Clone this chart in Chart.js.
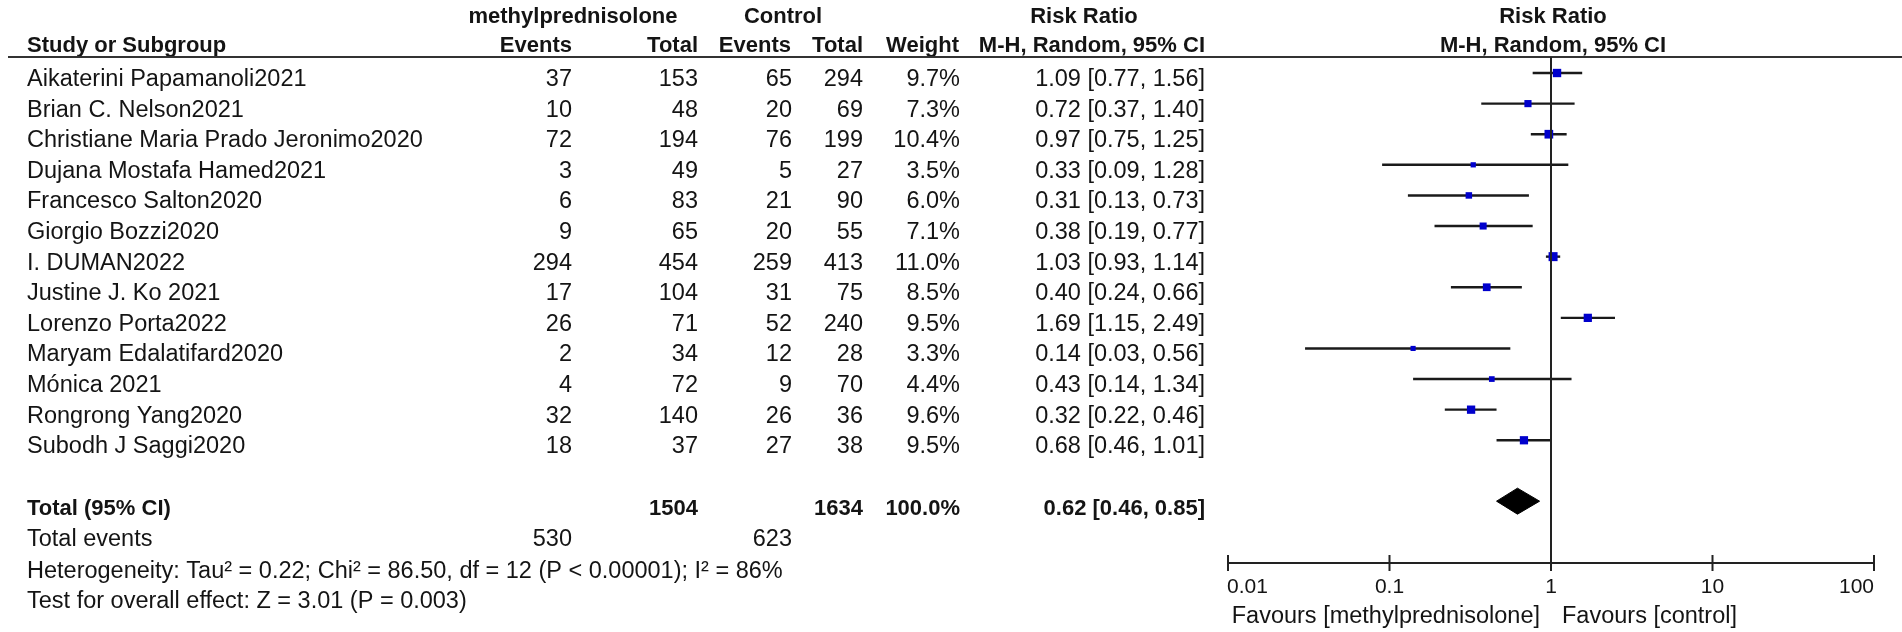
<!DOCTYPE html>
<html>
<head>
<meta charset="utf-8">
<script src="https://cdn.jsdelivr.net/npm/chart.js@4.4.1/dist/chart.umd.min.js"></script>
<style>
  html, body { margin: 0; padding: 0; background: #fff; }
  #wrap { width: 1902px; height: 632px; position: relative; }
</style>
</head>
<body>
<div id="wrap"><canvas id="forest"></canvas></div>
<script>
// study data
const studies = [
  'Aikaterini Papamanoli2021', 'Brian C. Nelson2021', 'Christiane Maria Prado Jeronimo2020',
  'Dujana Mostafa Hamed2021', 'Francesco Salton2020', 'Giorgio Bozzi2020', 'I. DUMAN2022',
  'Justine J. Ko 2021', 'Lorenzo Porta2022', 'Maryam Edalatifard2020', 'Mónica 2021',
  'Rongrong Yang2020', 'Subodh J Saggi2020'
];
const expEvents  = [37, 10, 72, 3, 6, 9, 294, 17, 26, 2, 4, 32, 18];
const expTotal   = [153, 48, 194, 49, 83, 65, 454, 104, 71, 34, 72, 140, 37];
const ctrlEvents = [65, 20, 76, 5, 21, 20, 259, 31, 52, 12, 9, 26, 27];
const ctrlTotal  = [294, 69, 199, 27, 90, 55, 413, 75, 240, 28, 70, 36, 38];
const weights    = [9.7, 7.3, 10.4, 3.5, 6.0, 7.1, 11.0, 8.5, 9.5, 3.3, 4.4, 9.6, 9.5];
const riskRatio  = [1.09, 0.72, 0.97, 0.33, 0.31, 0.38, 1.03, 0.40, 1.69, 0.14, 0.43, 0.32, 0.68];
const ciLower    = [0.77, 0.37, 0.75, 0.09, 0.13, 0.19, 0.93, 0.24, 1.15, 0.03, 0.14, 0.22, 0.46];
const ciUpper    = [1.56, 1.40, 1.25, 1.28, 0.73, 0.77, 1.14, 0.66, 2.49, 0.56, 1.34, 0.46, 1.01];

// pooled result
const totalExp = 1504, totalCtrl = 1634, totalWeight = '100.0%';
const eventsExp = 530, eventsCtrl = 623;
const pooled = [0.46, 0.62, 0.85]; // lower, estimate, upper
const heterogeneity = 'Heterogeneity: Tau² = 0.22; Chi² = 86.50, df = 12 (P < 0.00001); I² = 86%';
const overallTest = 'Test for overall effect: Z = 3.01 (P = 0.003)';

const tickValues = [0.01, 0.1, 1, 10, 100];
const tickLabels = ['0.01', '0.1', '1', '10', '100'];

const TOTAL_ROW = 14.99;
const FONT = '"Liberation Sans", Arial, sans-serif';
const INK = '#141414';
const BODY = 23.5;

// one line dataset per confidence interval
const ciSets = studies.map((s, i) => ({
  type: 'scatter',
  data: [{ x: ciLower[i], y: i + 1 }, { x: ciUpper[i], y: i + 1 }],
  showLine: true,
  borderColor: '#1a1a1a',
  borderWidth: 2.4,
  pointRadius: 0,
  order: 2
}));

const squareSet = {
  type: 'scatter',
  data: riskRatio.map((v, i) => ({ x: v, y: i + 1 })),
  pointStyle: 'rect',
  pointRadius: weights.map(w => (3.5 + 0.5 * w) / Math.SQRT2),
  backgroundColor: '#0000cc',
  borderWidth: 0,
  pointBorderWidth: 0,
  order: 0
};

const dh = 0.425;
const diamondSet = {
  type: 'scatter',
  data: [
    { x: pooled[0], y: TOTAL_ROW }, { x: pooled[1], y: TOTAL_ROW - dh },
    { x: pooled[2], y: TOTAL_ROW }, { x: pooled[1], y: TOTAL_ROW + dh },
    { x: pooled[0], y: TOTAL_ROW }
  ],
  showLine: true,
  fill: 'shape',
  backgroundColor: '#000',
  borderColor: '#000',
  borderWidth: 1,
  pointRadius: 0,
  tension: 0,
  order: 1
};

function txt(ctx, s, x, y, align, bold, size) {
  ctx.font = (bold ? 'bold ' : '') + size + 'px ' + FONT;
  ctx.textAlign = align;
  ctx.fillText(s, x, y);
}

const tablePlugin = {
  id: 'tablePlugin',
  afterDraw(chart) {
    const ctx = chart.ctx;
    const xs = chart.scales.x, ys = chart.scales.y;
    ctx.save();
    ctx.fillStyle = INK;
    ctx.textBaseline = 'alphabetic';

    // headers
    txt(ctx, 'methylprednisolone', 573, 23, 'center', true, 22);
    txt(ctx, 'Control', 783, 23, 'center', true, 22);
    txt(ctx, 'Risk Ratio', 1084, 23, 'center', true, 22);
    txt(ctx, 'Risk Ratio', 1553, 23, 'center', true, 22);
    txt(ctx, 'Study or Subgroup', 27, 52, 'left', true, 22);
    txt(ctx, 'Events', 572, 52, 'right', true, 22);
    txt(ctx, 'Total', 698, 52, 'right', true, 22);
    txt(ctx, 'Events', 791, 52, 'right', true, 22);
    txt(ctx, 'Total', 863, 52, 'right', true, 22);
    txt(ctx, 'Weight', 959, 52, 'right', true, 22);
    txt(ctx, 'M-H, Random, 95% CI', 1205, 52, 'right', true, 22);
    txt(ctx, 'M-H, Random, 95% CI', 1553, 52, 'center', true, 22);

    ctx.strokeStyle = '#333';
    ctx.lineWidth = 2;
    ctx.beginPath();
    ctx.moveTo(8, 57);
    ctx.lineTo(1902, 57);
    ctx.stroke();

    // study rows
    studies.forEach((s, i) => {
      const y = ys.getPixelForValue(i + 1) + 13;
      txt(ctx, s, 27, y, 'left', false, BODY);
      txt(ctx, String(expEvents[i]), 572, y, 'right', false, BODY);
      txt(ctx, String(expTotal[i]), 698, y, 'right', false, BODY);
      txt(ctx, String(ctrlEvents[i]), 792, y, 'right', false, BODY);
      txt(ctx, String(ctrlTotal[i]), 863, y, 'right', false, BODY);
      txt(ctx, weights[i].toFixed(1) + '%', 960, y, 'right', false, BODY);
      txt(ctx, riskRatio[i].toFixed(2) + ' [' + ciLower[i].toFixed(2) + ', ' + ciUpper[i].toFixed(2) + ']',
          1205, y, 'right', false, BODY);
    });

    // total rows
    const ty = ys.getPixelForValue(TOTAL_ROW) + 14;
    txt(ctx, 'Total (95% CI)', 27, ty, 'left', true, 22);
    txt(ctx, String(totalExp), 698, ty, 'right', true, 22);
    txt(ctx, String(totalCtrl), 863, ty, 'right', true, 22);
    txt(ctx, totalWeight, 960, ty, 'right', true, 22);
    txt(ctx, pooled[1].toFixed(2) + ' [' + pooled[0].toFixed(2) + ', ' + pooled[2].toFixed(2) + ']',
        1205, ty, 'right', true, 22);
    txt(ctx, 'Total events', 27, 546, 'left', false, BODY);
    txt(ctx, String(eventsExp), 572, 546, 'right', false, BODY);
    txt(ctx, String(eventsCtrl), 792, 546, 'right', false, BODY);
    txt(ctx, heterogeneity, 27, 578, 'left', false, BODY);
    txt(ctx, overallTest, 27, 608, 'left', false, BODY);

    // line of no effect
    const x1 = xs.getPixelForValue(1);
    ctx.strokeStyle = '#222';
    ctx.beginPath();
    ctx.moveTo(x1, 57);
    ctx.lineTo(x1, chart.chartArea.bottom);
    ctx.stroke();

    // x axis
    const ay = chart.chartArea.bottom;
    ctx.beginPath();
    ctx.moveTo(xs.getPixelForValue(tickValues[0]), ay);
    ctx.lineTo(xs.getPixelForValue(tickValues[tickValues.length - 1]), ay);
    tickValues.forEach(v => {
      const px = xs.getPixelForValue(v);
      ctx.moveTo(px, ay - 8);
      ctx.lineTo(px, ay + 8);
    });
    ctx.stroke();
    tickValues.forEach((v, i) => {
      const px = xs.getPixelForValue(v);
      const al = i === 0 ? 'left' : (i === tickValues.length - 1 ? 'right' : 'center');
      txt(ctx, tickLabels[i], px + (i === 0 ? -1 : 0), ay + 30, al, false, 21);
    });
    txt(ctx, 'Favours [methylprednisolone]', x1 - 11, 623, 'right', false, BODY);
    txt(ctx, 'Favours [control]', x1 + 11, 623, 'left', false, BODY);
    ctx.restore();
  }
};

new Chart(document.getElementById('forest'), {
  type: 'scatter',
  data: { datasets: [squareSet, diamondSet, ...ciSets] },
  options: {
    responsive: true,
    maintainAspectRatio: false,
    animation: false,
    layout: { padding: { left: 1228, right: 28, top: 57, bottom: 69 } },
    plugins: { legend: { display: false }, tooltip: { enabled: false } },
    scales: {
      x: { type: 'logarithmic', min: 0.01, max: 100, display: false },
      y: { type: 'linear', min: 0.477, max: 17.01, reverse: true, display: false }
    }
  },
  plugins: [tablePlugin]
});
</script>
</body>
</html>
